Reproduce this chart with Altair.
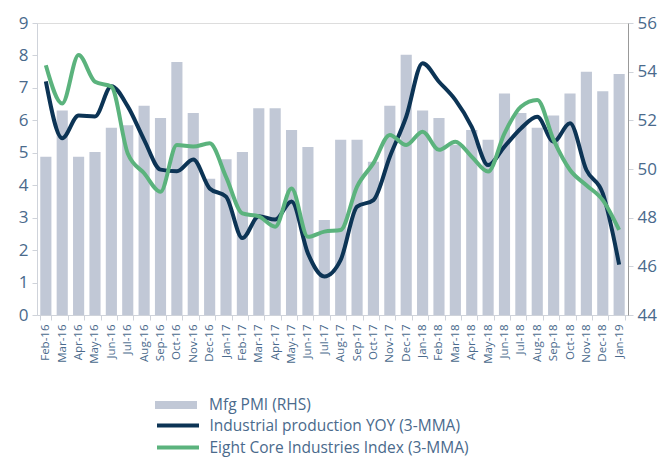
import altair as alt
import pandas as pd

months = ["Feb-16","Mar-16","Apr-16","May-16","Jun-16","Jul-16","Aug-16","Sep-16","Oct-16","Nov-16","Dec-16","Jan-17",
          "Feb-17","Mar-17","Apr-17","May-17","Jun-17","Jul-17","Aug-17","Sep-17","Oct-17","Nov-17","Dec-17","Jan-18",
          "Feb-18","Mar-18","Apr-18","May-18","Jun-18","Jul-18","Aug-18","Sep-18","Oct-18","Nov-18","Dec-18","Jan-19"]
pmi = [50.5,52.4,50.5,50.7,51.7,51.8,52.6,52.1,54.4,52.3,49.6,50.4,
       50.7,52.5,52.5,51.6,50.9,47.9,51.2,51.2,50.3,52.6,54.7,52.4,
       52.1,51.0,51.6,51.2,53.1,52.3,51.7,52.2,53.1,54.0,53.2,53.9]
ip = [7.2,5.45,6.15,6.12,7.05,6.43,5.4,4.48,4.43,4.79,3.9,3.65,
      2.37,3.04,2.94,3.5,1.9,1.19,1.7,3.34,3.54,4.88,6.11,7.76,
      7.19,6.63,5.8,4.62,5.19,5.75,6.11,5.34,5.91,4.47,3.75,1.55]
core = [7.7,6.52,8.01,7.19,7.04,4.98,4.37,3.8,5.24,5.19,5.29,4.26,
        3.13,3.04,2.72,3.9,2.41,2.57,2.62,3.96,4.68,5.55,5.24,5.65,
        5.09,5.34,4.88,4.42,5.6,6.42,6.63,5.39,4.47,4.0,3.54,2.62]

bar_name = "Mfg PMI (RHS)"
ip_name = "Industrial production YOY (3-MMA)"
core_name = "Eight Core Industries Index (3-MMA)"

TXT = "#4a6a8c"
FONT = "Open Sans"

bars_df = pd.DataFrame({"month": months, "value": pmi, "series": bar_name})
lines_df = pd.concat([
    pd.DataFrame({"month": months, "value": ip, "series": ip_name}),
    pd.DataFrame({"month": months, "value": core, "series": core_name}),
])

xscale = alt.Scale(domain=months, paddingInner=0.32, paddingOuter=0.2)
xaxis = alt.Axis(title=None, labelAngle=-90, labelAlign="right", labelBaseline="middle",
                 labelFontSize=11.5, labelColor=TXT, labelPadding=4, tickBand="extent",
                 domainColor="#cfd3da", tickColor="#cfd3da", tickSize=5, labelFont=FONT)

bars = alt.Chart(bars_df).mark_bar(color="#c1c8d6", clip=True).encode(
    x=alt.X("month:N", scale=xscale, axis=xaxis, sort=months),
    y=alt.Y("value:Q", scale=alt.Scale(domain=[44, 56], zero=False, nice=False),
            axis=alt.Axis(orient="right", title=None, values=list(range(44, 57, 2)),
                          labelFontSize=17, labelColor=TXT, labelFont=FONT, grid=False,
                          domainColor="#999999", tickColor="#cfd3da", tickSize=5, labelPadding=4)),
    y2=alt.datum(44),
    fill=alt.Fill("series:N", scale=alt.Scale(domain=[bar_name], range=["#c1c8d6"]),
                  legend=alt.Legend(title=None, orient="none", legendX=118, legendY=361,
                                    symbolType="M-1,-0.19H1V0.19H-1Z", symbolSize=1764,
                                    symbolStrokeWidth=0, labelFontSize=15.5, labelColor=TXT,
                                    labelFont=FONT, labelOffset=12, labelLimit=500)),
)

lines = alt.Chart(lines_df).mark_line(strokeWidth=4, interpolate="monotone").encode(
    x=alt.X("month:N", scale=xscale, axis=xaxis, sort=months),
    y=alt.Y("value:Q", scale=alt.Scale(domain=[0, 9], nice=False),
            axis=alt.Axis(orient="left", title=None, values=list(range(0, 10)),
                          labelFontSize=17, labelColor=TXT, labelFont=FONT, grid=False,
                          domainColor="#cfd3da", tickColor="#cfd3da", tickSize=5, labelPadding=4)),
    stroke=alt.Stroke("series:N", scale=alt.Scale(domain=[ip_name, core_name], range=["#0c3455", "#5bb37d"]),
                      legend=alt.Legend(title=None, orient="none", legendX=128.5, legendY=390,
                                        symbolType="M-2,0H2", symbolSize=441, symbolStrokeWidth=4,
                                        labelFontSize=15.5, labelColor=TXT, labelFont=FONT,
                                        labelOffset=19, rowPadding=1, labelLimit=500)),
    detail="series:N",
)

chart = alt.layer(bars, lines).resolve_scale(y="independent").properties(
    width=591, height=292,
    autosize=alt.AutoSizeParams(type="none"),
    padding={"left": 29, "top": 15, "right": 33, "bottom": 142},
).configure_view(stroke=None).configure(background="white")

chart.save("out.html", embed_options={"renderer": "svg", "actions": False})
